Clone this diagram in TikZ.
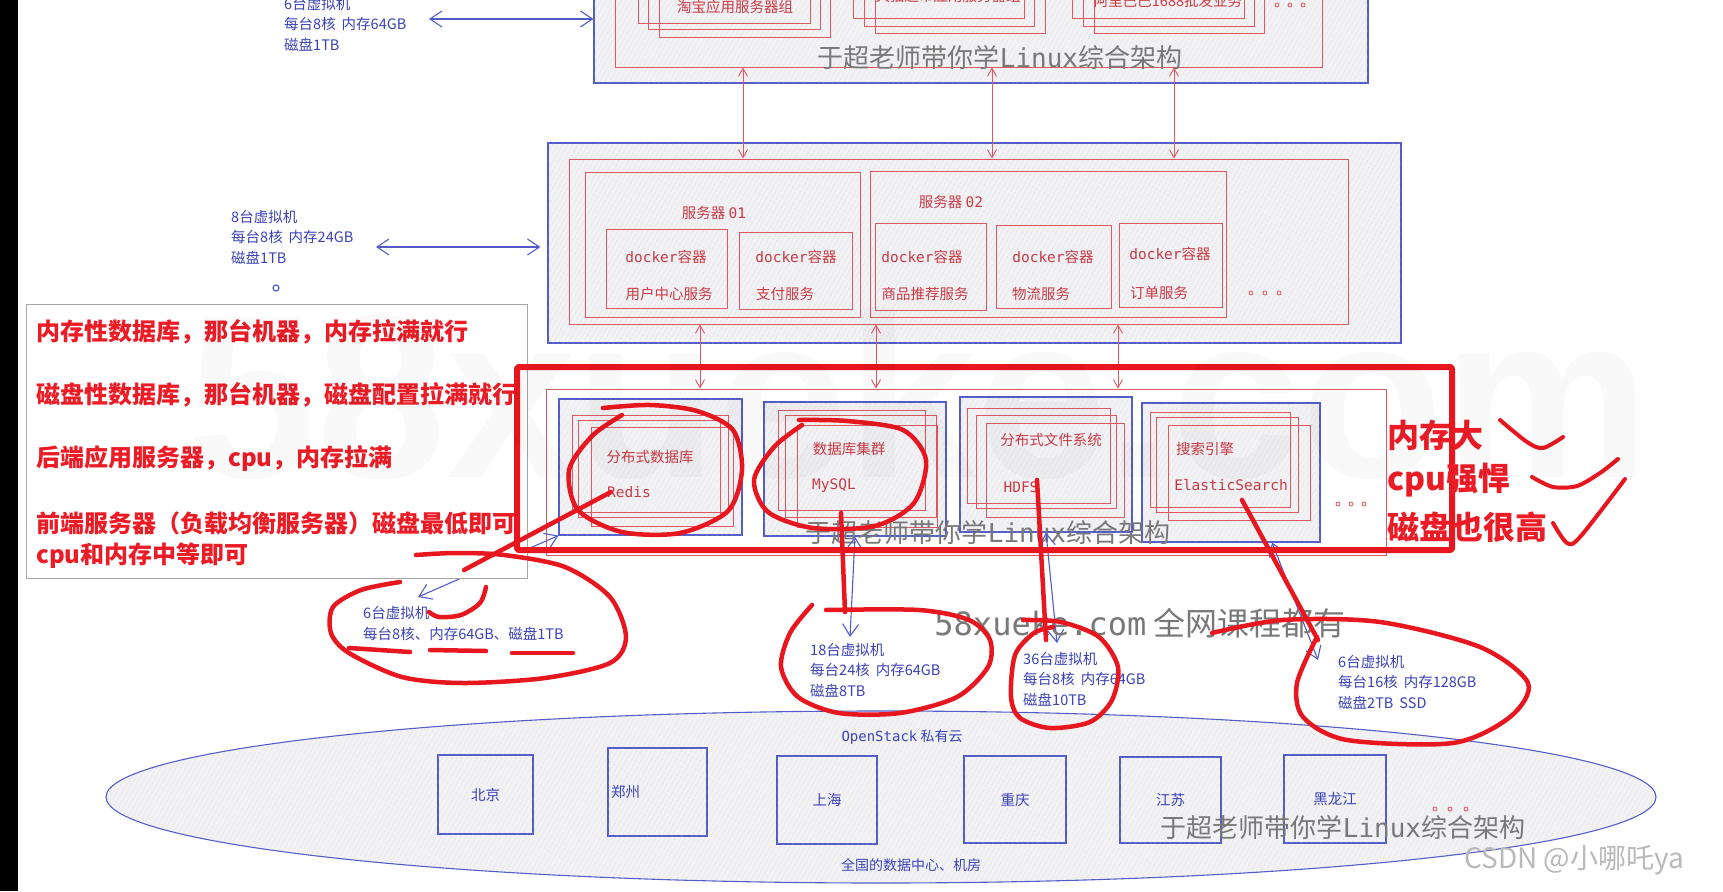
\documentclass[tikz,border=0pt]{standalone}
\usepackage{fontspec}
\setmainfont{Noto Sans CJK SC}
\newfontfamily\monofont{DejaVu Sans Mono}
\newfontfamily\wmfont{Liberation Sans}
\usetikzlibrary{arrows.meta,patterns.meta}

\definecolor{exblue}{RGB}{82,92,200}
\definecolor{bluetext}{RGB}{58,66,182}
\definecolor{exred}{RGB}{222,88,98}
\definecolor{redtext}{RGB}{200,58,68}
\definecolor{handred}{RGB}{232,22,30}
\definecolor{notered}{RGB}{236,28,38}
\definecolor{boxgray}{RGB}{242,242,245}
\definecolor{hatchgray}{RGB}{200,200,208}
\definecolor{wmgray}{RGB}{120,120,120}

\newcommand\sz[2]{\fontsize{#1}{#2}\selectfont}
\newcommand\mt[1]{{\monofont #1}}

\tikzset{
  hatch/.style={postaction={pattern={Lines[angle=60,distance=4pt,line width=0.35pt]},pattern color=hatchgray}},
  bluebox/.style={draw=exblue, line width=1.1pt, fill=boxgray, hatch, inner sep=0pt},
  redbox/.style={draw=exred, line width=0.9pt, inner sep=0pt},
  rtext/.style={text=redtext, font=\sz{14.5}{17}, inner sep=0pt},
  btext/.style={text=bluetext, font=\sz{14.5}{20.5}, align=left, inner sep=0pt, anchor=west},
  ctext/.style={text=bluetext, font=\sz{14.5}{17}, inner sep=0pt},
  note/.style={text=notered, font=\sz{24}{28}\bfseries, inner sep=0pt, anchor=west},
  wm/.style={text=wmgray, font=\sz{26}{30}, inner sep=0pt},
  redarr/.style={draw=exred, line width=0.9pt, {Straight Barb[length=8pt,width=9pt]}-{Straight Barb[length=8pt,width=9pt]}},
  bluearr/.style={draw=exblue, line width=1.1pt, {Straight Barb[length=12pt,width=16pt]}-{Straight Barb[length=12pt,width=16pt]}},
  hand/.style={draw=handred, line width=4.5pt, line cap=round, line join=round},
}

\begin{document}
\begin{tikzpicture}[x=1pt,y=-1pt]
  \useasboundingbox (0,0) rectangle (1723,891);
  \fill[white] (0,0) rectangle (1723,891);
  \fill[black] (0,0) rectangle (18,891);

  % top layer
  \node[bluebox, minimum width=774pt, minimum height=103pt] (topbox) at (981,31.5) {};
  \node[redbox, minimum width=707pt, minimum height=87pt] (topin) at (968.5,23.5) {};
  \foreach \a/\b/\c/\d in {638/-20/810/23, 648/-20/820/29, 659/-20/830/37,
      853/-20/1024/18, 864/-20/1034/26, 875/-20/1045/33,
      1072/-20/1244/18, 1083/-20/1254/26, 1094/-20/1264/33}
    \draw[exred, line width=0.9pt] (\a,\b) rectangle (\c,\d);
  \node[rtext] (taobao) at (735,7) {淘宝应用服务器组};
  \node[rtext] (tmall) at (948,-4) {天猫超市应用服务器组};
  \node[rtext] (ali) at (1168,1) {阿里巴巴1688批发业务};
  \foreach \x in {1277,1290,1303} \draw[exred, line width=0.8pt] (\x,5) circle (2);
  \node[wm] (wm1) at (1000,58) {于超老师带你学\mt{Linux}综合架构};

  \node[btext] (vmtop) at (284,24) {6台虚拟机\\每台8核\hspace{6pt}内存64GB\\磁盘1TB};
  \coordinate (tipT) at (429,19);
  \draw[bluearr] (tipT) -- (topbox.west |- tipT);

  % app servers
  \node[bluebox, minimum width=853pt, minimum height=200pt] (midbox) at (974.5,243) {};
  \node[redbox, minimum width=779pt, minimum height=165pt] (midin) at (958.5,241.5) {};
  \node[redbox, minimum width=275pt, minimum height=145pt] (srv1) at (722.5,244.5) {};
  \node[redbox, minimum width=356pt, minimum height=146pt] (srv2) at (1048,244) {};
  \node[rtext] (srv1t) at (714,213) {服务器 \mt{01}};
  \node[rtext] (srv2t) at (951,202) {服务器 \mt{02}};
  \node[redbox, minimum width=121pt, minimum height=79pt] (dk1) at (666.5,268.5) {};
  \node[redbox, minimum width=113pt, minimum height=77pt] (dk2) at (795.5,270.5) {};
  \node[redbox, minimum width=111pt, minimum height=87pt] (dk3) at (930.5,266.5) {};
  \node[redbox, minimum width=115pt, minimum height=83pt] (dk4) at (1053.5,266.5) {};
  \node[redbox, minimum width=103pt, minimum height=84pt] (dk5) at (1170.5,265) {};
  \foreach \n/\x/\y in {1/666/257, 2/796/257, 3/922/257, 4/1053/257, 5/1170/254}
    \node[rtext] (dk\n t) at (\x,\y) {\mt{docker}容器};
  \node[rtext] (svc1) at (669,294) {用户中心服务};
  \node[rtext] (svc2) at (785,294) {支付服务};
  \node[rtext] (svc3) at (925,294) {商品推荐服务};
  \node[rtext] (svc4) at (1041,294) {物流服务};
  \node[rtext] (svc5) at (1159,293) {订单服务};
  \foreach \x in {1251,1265,1279} \draw[exred, line width=0.8pt] (\x,293) circle (2);

  \node[btext] (vmmid) at (231,237) {8台虚拟机\\每台8核\hspace{6pt}内存24GB\\磁盘1TB};
  \coordinate (tipM) at (376,247);
  \draw[bluearr, shorten >=7pt] (tipM) -- (midbox.west |- tipM);
  \draw[exblue, line width=1.2pt] (276,288) circle (3);

  \foreach \x in {743,992,1174}
    \draw[redarr] (topin.south -| \x,0) -- (midin.north -| \x,0);

  % data layer
  \node[redbox, minimum width=840pt, minimum height=166pt] (datain) at (966,472) {};
  \node[bluebox, minimum width=183pt, minimum height=136pt] (db1) at (650.5,467) {};
  \node[bluebox, minimum width=182pt, minimum height=134pt] (db2) at (855,469) {};
  \node[bluebox, minimum width=172pt, minimum height=135pt] (db3) at (1046,464.5) {};
  \node[bluebox, minimum width=178pt, minimum height=139pt] (db4) at (1231,472.5) {};
  \foreach \a/\b/\c/\d in {572/415/728/512, 578/420/720/517, 591/427/733/526,
      778/410/925/510, 785/415/936/517, 797/425/937/527,
      967/408/1110/503, 976/415/1116/508, 986/423/1124/517,
      1150/412/1290/507, 1156/417/1298/512, 1168/425/1310/520}
    \draw[exred, line width=0.9pt] (\a,\b) rectangle (\c,\d);
  \node[rtext] (redist) at (650,457) {分布式数据库};
  \node[rtext] (redis) at (629,492) {\mt{Redis}};
  \node[rtext] (mysqlt) at (849,449) {数据库集群};
  \node[rtext] (mysql) at (834,486) {\mt{MySQL}};
  \node[rtext] (hdfst) at (1051,440) {分布式文件系统};
  \node[rtext] (hdfs) at (1021,487) {\mt{HDFS}};
  \node[rtext] (est) at (1205,449) {搜索引擎};
  \node[rtext] (es) at (1231,485) {\mt{ElasticSearch}};
  \foreach \x in {1338,1351,1364} \draw[exred, line width=0.8pt] (\x,504) circle (2);
  \node[wm] (wm2) at (988,533) {于超老师带你学\mt{Linux}综合架构};

  \foreach \x in {700,876,1118}
    \draw[redarr] (midin.south -| \x,0) -- (datain.north -| \x,0);

  % vm labels
  \node[btext] (vmA) at (363,623.5) {6台虚拟机\\每台8核、内存64GB、磁盘1TB};
  \node[btext] (vmB) at (810,670) {18台虚拟机\\每台24核\hspace{6pt}内存64GB\\磁盘8TB};
  \node[btext] (vmC) at (1023,679) {36台虚拟机\\每台8核\hspace{6pt}内存64GB\\磁盘10TB};
  \node[btext] (vmD) at (1338,682) {6台虚拟机\\每台16核\hspace{6pt}内存128GB\\磁盘2TB\hspace{6pt}SSD};
  \coordinate (tipA) at (418,597);
  \coordinate (tipB) at (850,637);
  \coordinate (tipC) at (1057,643);
  \coordinate (tipD) at (1318,660);
  \draw[bluearr] (db1.south west) -- (tipA);
  \draw[bluearr] (db2.south) -- (tipB);
  \draw[bluearr] (db3.south) -- (tipC);
  \draw[bluearr] ([xshift=41pt]db4.south) -- (tipD);

  % cloud
  \draw[draw=exblue, line width=1.1pt, fill=boxgray, hatch] (881,797) ellipse [x radius=775, y radius=86];
  \node[ctext, font=\sz{14}{17}] (osk) at (902,737) {\mt{OpenStack} 私有云};
  \node[ctext, font=\sz{14}{17}] (idc) at (911,865) {全国的数据中心、机房};
  \node[bluebox, ctext, minimum width=95pt, minimum height=79pt] (bj) at (485.5,794.5) {北京};
  \node[bluebox, ctext, minimum width=99pt, minimum height=88pt, text width=93pt, align=left] (zz) at (657.5,792) {郑州};
  \node[bluebox, ctext, minimum width=100pt, minimum height=88pt] (sh) at (827,800) {上海};
  \node[bluebox, ctext, minimum width=102pt, minimum height=87pt] (cq) at (1015,799.5) {重庆};
  \node[bluebox, ctext, minimum width=101pt, minimum height=86pt] (js) at (1170.5,800) {江苏};
  \node[bluebox, ctext, minimum width=102pt, minimum height=88pt] (hlj) at (1335,799) {黑龙江};
  \foreach \x in {1435,1450,1466} \draw[exred, line width=0.8pt] (\x,809) circle (2);
  \node[wm] (wm3) at (1343,828) {于超老师带你学\mt{Linux}综合架构};

  % notes
  \node[draw=gray!70, fill=white, line width=0.8pt, minimum width=501pt, minimum height=274pt] (notebox) at (276.5,441) {};
  \node[note] (n1) at (36,332) {内存性数据库，那台机器，内存拉满就行};
  \node[note] (n2) at (36,395) {磁盘性数据库，那台机器，磁盘配置拉满就行};
  \node[note] (n3) at (36,458) {后端应用服务器，cpu，内存拉满};
  \node[note] (n4) at (36,523) {前端服务器（负载均衡服务器）磁盘最低即可};
  \node[note] (n5) at (36,556) {cpu和内存中等即可};

  \node[text=wmgray, font=\sz{32}{36}, inner sep=0pt] (site) at (1140,623) {\mt{58xueke.com} 全网课程都有};

  % hand marks
  \draw[hand, line width=6pt, rounded corners=2pt] (517,367) rectangle (1452,550);
  \node[note, font=\sz{32}{36}\bfseries] (big1) at (1387,435) {内存大};
  \node[note, font=\sz{32}{36}\bfseries] (big2) at (1387,480) {cpu强悍};
  \node[note, font=\sz{32}{36}\bfseries] (big3) at (1387,527) {磁盘也很高};
  \draw[hand, line width=4pt] plot[smooth] coordinates {(1500,420) (1527,442) (1543,448) (1563,437)};
  \draw[hand, line width=4pt] plot[smooth] coordinates {(1532,477) (1553,487) (1577,486) (1600,473) (1618,459)};
  \draw[hand, line width=4pt] plot[smooth] coordinates {(1553,523) (1567,543) (1580,537) (1625,479)};

  \draw[hand] plot[smooth] coordinates {(622,415) (592,436) (569,470) (578,510) (622,532) (680,533) (728,511) (742,470) (733,430) (697,411) (650,405) (603,408)};
  \draw[hand] (611,492) -- (464,570);
  \draw[hand] plot[smooth] coordinates {(486,587) (480,603) (461,615) (439,617) (429,612)};
  \draw[hand] plot[smooth] coordinates {(416,555) (455,553) (504,555) (565,567) (610,597) (626,637) (610,663) (545,678) (463,683) (402,677) (349,653) (331,633) (333,607) (361,590) (400,582)};
  \draw[hand] (349,648) -- (410,652);
  \draw[hand] (430,650) -- (486,651);
  \draw[hand] (512,653) -- (573,653);
  \draw[hand] plot[smooth] coordinates {(802,425) (774,447) (754,480) (768,512) (813,528) (875,526) (914,503) (926,460) (903,430) (847,421) (799,420)};
  \draw[hand] (841,513) -- (845,612);
  \draw[hand] plot[smooth] coordinates {(812,605) (790,633) (781,667) (798,697) (839,713) (900,713) (957,697) (988,667) (990,640) (969,620) (919,610) (826,610)};
  \draw[hand] (1037,480) -- (1046,640);
  \draw[hand] plot[smooth] coordinates {(1023,620) (1061,622) (1099,637) (1118,667) (1112,700) (1090,722) (1050,728) (1020,718) (1011,697) (1015,655) (1034,633) (1053,627)};
  \draw[hand] (1242,500) -- (1318,640);
  \draw[hand] plot[smooth] coordinates {(1212,633) (1283,620) (1380,622) (1480,647) (1528,683) (1510,717) (1453,743) (1347,740) (1303,717) (1297,683) (1317,637)};

  % watermarks
  \node[font=\wmfont\bfseries\sz{233}{240}, text=black, text opacity=0.025, anchor=base west, inner sep=0pt] (bigwm) at (187,477) {58xueke.com};
  \node[anchor=west, text=gray!55, font=\sz{28}{32}, inner sep=0pt] (csdn) at (1464,860) {CSDN @小哪吒ya};
\end{tikzpicture}
\end{document}
